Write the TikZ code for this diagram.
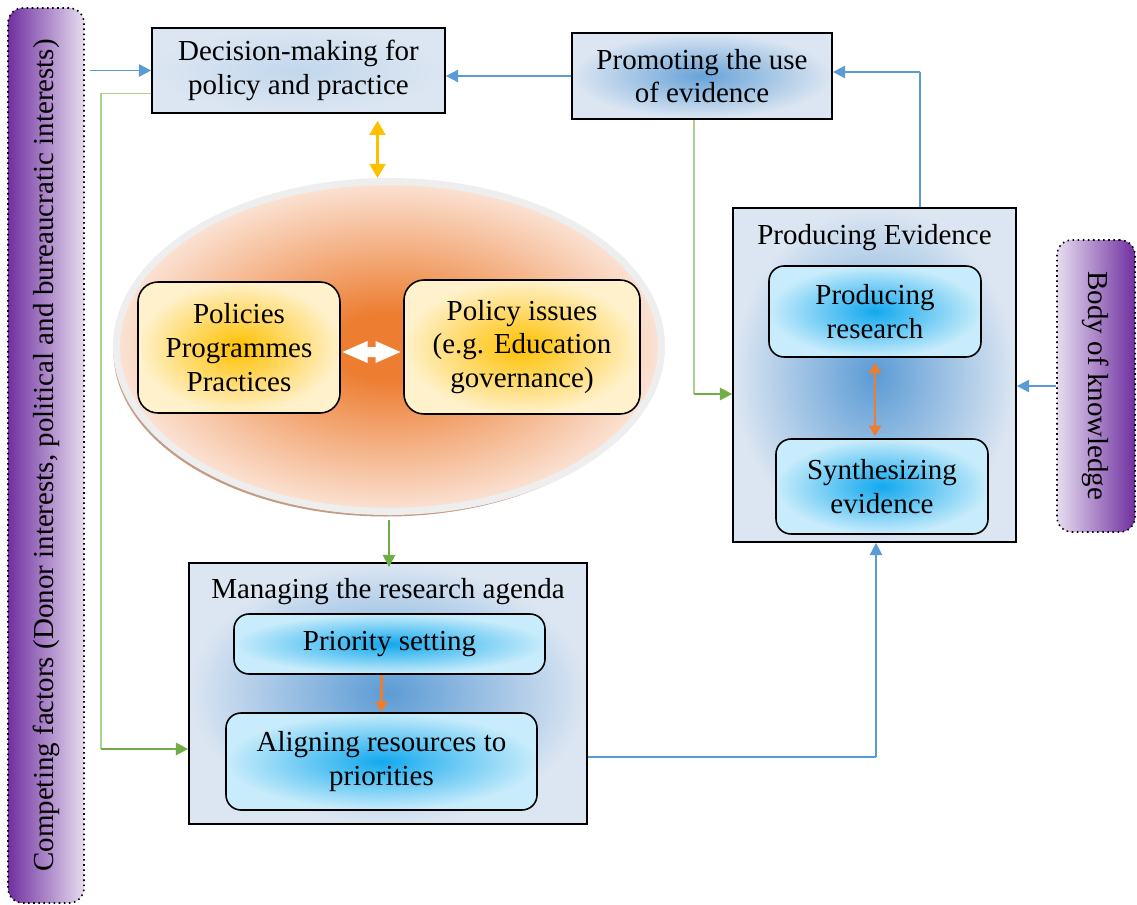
\documentclass[tikz,border=0pt]{standalone}
\usepackage{fontspec}
\setmainfont{Liberation Serif}
\usetikzlibrary{positioning,arrows.meta,shapes.geometric,shadows}

\definecolor{paleblue}{HTML}{DCE6F2}
\definecolor{midblue}{HTML}{5B9BD5}
\definecolor{skycore}{HTML}{12A9EE}
\definecolor{skyrim}{HTML}{C8ECFB}
\definecolor{goldcore}{HTML}{FFC000}
\definecolor{goldrim}{HTML}{FFF1CB}
\definecolor{hubcore}{HTML}{ED7D31}
\definecolor{hubrim}{HTML}{FBE3D5}
\definecolor{hubring}{HTML}{EEEEEE}
\definecolor{hubshadow}{HTML}{C39C84}
\definecolor{plum}{HTML}{7030A0}
\definecolor{plummid}{HTML}{CDB8DF}
\definecolor{lilac}{HTML}{E6DCEF}
\definecolor{leaf}{HTML}{70AD47}
\definecolor{paleleaf}{HTML}{A9D18E}

\pgfdeclareradialshading{hubglow}{\pgfpoint{0bp}{0bp}}{color(0bp)=(hubcore); color(5bp)=(hubcore); color(25bp)=(hubrim); color(50bp)=(hubrim)}

\tikzset{
  txt/.style={font=\fontsize{16.5}{19.2}\selectfont, align=center},
  topbox/.style={txt, draw, line width=1pt, outer color=paleblue},
  outerbox/.style={draw, line width=1pt, inner color=midblue, outer color=paleblue},
  skybox/.style={txt, draw, line width=0.9pt, rounded corners=0.3cm, inner color=skycore, outer color=skyrim},
  goldbox/.style={txt, draw, line width=0.9pt, rounded corners=0.4cm, inner color=goldcore, outer color=goldrim},
  banner/.style={draw, dotted, line width=0.9pt, rounded corners=0.3cm},
  hub/.style={ellipse, draw=hubring, line width=4pt, shading=hubglow, inner sep=0pt,
    minimum width=10.9cm, minimum height=6.6cm,
    drop shadow={shadow xshift=-0.06cm, shadow yshift=-0.1cm, fill=hubshadow, opacity=1}},
  bluearrow/.style={draw=midblue, line width=1.1pt, -{Triangle[length=7pt,width=7pt]}},
  bluethin/.style={draw=midblue, line width=0.7pt},
  leafarrow/.style={draw=leaf, line width=1.3pt, -{Triangle[length=7pt,width=7pt]}},
  leafthin/.style={draw=paleleaf, line width=0.8pt},
  goldarrow/.style={draw=goldcore, line width=1.5pt, {Triangle[length=8pt,width=9pt]}-{Triangle[length=8pt,width=9pt]}},
  emberarrow/.style={draw=hubcore, line width=1.2pt, -{Triangle[length=6pt,width=7pt]}},
  embertwin/.style={draw=hubcore, line width=1.2pt, {Triangle[length=6pt,width=7pt]}-{Triangle[length=6pt,width=7pt]}}
}

\begin{document}
\begin{tikzpicture}
    \useasboundingbox (0,0) rectangle (22.74,-18.1);

    % Side banners
    \node[banner, left color=plum, middle color=plummid, right color=lilac, minimum width=1.52cm, minimum height=17.9cm] (compet) at (0.92,-9.11) {};
    \node[txt, rotate=90] (competlabel) at (compet) {Competing factors (Donor interests, political and bureaucratic interests)};
    \node[banner, left color=lilac, middle color=plummid, right color=plum, minimum width=1.56cm, minimum height=5.84cm] (body) at (21.92,-7.72) {};
    \node[txt, rotate=-90] (bodylabel) at (body) {Body of knowledge};

    % Top boxes
    \node[topbox, inner color=paleblue!80!midblue, minimum width=5.86cm, minimum height=1.7cm] (decision) at (5.97,-1.41) {Decision-making for\\policy and practice};
    \node[topbox, inner color=midblue!90!paleblue, minimum width=5.2cm, minimum height=1.72cm] (promote) at (14.04,-1.52) {Promoting the use\\of evidence};

    % Policy ellipse
    \node[hub] (hub) at (7.78,-6.93) {};
    \node[goldbox, minimum width=4.04cm, minimum height=2.62cm] (policies) at (4.78,-6.95) {Policies\\Programmes\\Practices};
    \node[goldbox, minimum width=4.72cm, minimum height=2.68cm] (issues) at (10.44,-6.94) {Policy issues\\(e.g. Education\\governance)};
    \coordinate (swap) at (7.43,-7.04);
    \fill[white] (swap) ++(-0.58,0) -- ++(0.5,0.22) -- ++(0,-0.12) -- ++(0.16,0) -- ++(0,0.12)
        -- ++(0.5,-0.22) -- ++(-0.5,-0.22) -- ++(0,0.12) -- ++(-0.16,0) -- ++(0,-0.12) -- cycle;

    % Managing the research agenda
    \node[outerbox, minimum width=7.96cm, minimum height=5.22cm] (manage) at (7.76,-13.87) {};
    \node[txt] (mtitle) at ([yshift=-0.58cm]manage.north) {Managing the research agenda};
    \node[skybox, minimum width=6.22cm, minimum height=1.2cm] (prio) at (7.79,-12.88) {Priority setting};
    \node[skybox, minimum width=6.22cm, minimum height=1.94cm] (align) at (7.63,-15.23) {Aligning resources to\\priorities};

    % Producing evidence
    \node[outerbox, minimum width=5.66cm, minimum height=6.68cm] (produce) at (17.49,-7.5) {};
    \node[txt] (ptitle) at ([yshift=-0.6cm]produce.north) {Producing Evidence};
    \node[skybox, minimum width=4.24cm, minimum height=1.82cm] (research) at (17.5,-6.23) {Producing\\research};
    \node[skybox, minimum width=4.24cm, minimum height=1.9cm] (synth) at (17.64,-9.73) {Synthesizing\\evidence};

    % Inner arrows
    \draw[goldarrow] ([xshift=1.58cm,yshift=-0.14cm]decision.south) -- ([xshift=1.58cm]decision.south |- hub.north);
    \draw[emberarrow] (prio.south -| align.north) -- (align.north);
    \draw[embertwin, shorten <=0.1cm, shorten >=0.04cm] (research.south) -- (research.south |- synth.north);
    \draw[leafarrow] ([yshift=-0.1cm]hub.south) -- ([yshift=-0.1cm]hub.south |- manage.north);

    % Links between the stages
    \draw[bluearrow, shorten <=3pt] (compet.east |- decision.west) -- (decision.west);
    \draw[bluearrow] (promote.west) -- (promote.west -| decision.east);
    \coordinate (gdrop) at (2.02,-14.98);
    \draw[leafthin] ([yshift=-0.46cm]decision.west) -| (gdrop);
    \draw[leafarrow] (gdrop) -- (gdrop -| manage.west);
    \coordinate (gdrop2) at (13.88,-7.88);
    \draw[leafthin] (promote.south -| gdrop2) -- (gdrop2);
    \draw[leafarrow] (gdrop2) -- (gdrop2 -| produce.west);
    \coordinate (bturn) at (18.4,-1.44);
    \draw[bluethin] (produce.north -| bturn) -- (bturn);
    \draw[bluearrow] (bturn) -- (bturn -| promote.east);
    \coordinate (bturn2) at (17.52,-15.14);
    \draw[bluethin] (manage.east |- bturn2) -- (bturn2);
    \draw[bluearrow] (bturn2) -- (bturn2 |- produce.south);
    \draw[bluearrow] (body.west) -- (body.west -| produce.east);
\end{tikzpicture}
\end{document}
